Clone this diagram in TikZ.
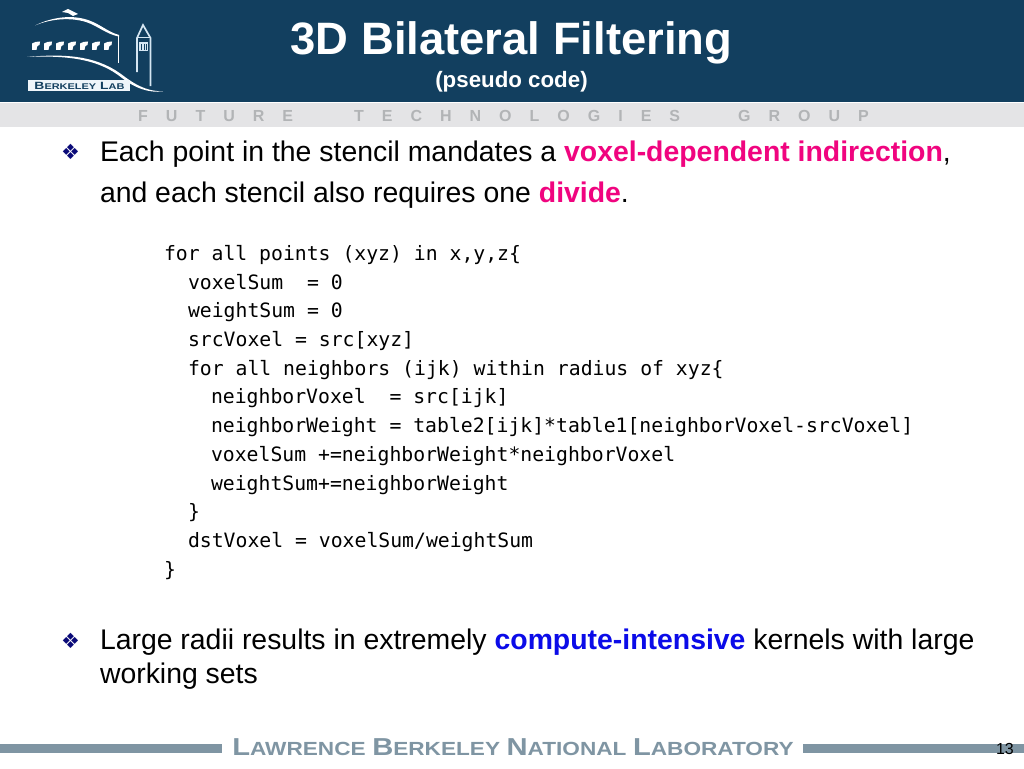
\documentclass[tikz,border=0pt]{standalone}
\usepackage{graphicx}
\usepackage{fontspec}
\setmainfont{Liberation Sans}
\setmonofont{DejaVu Sans Mono}
\newfontfamily\symfont{DejaVu Sans}
\definecolor{band}{HTML}{123F5F}
\definecolor{strip}{HTML}{E4E4E6}
\definecolor{striptext}{HTML}{B2B4B6}
\definecolor{foot}{HTML}{7F95A3}
\definecolor{hotpink}{HTML}{F0047F}
\definecolor{hotblue}{HTML}{0B0BE8}
\definecolor{bulletc}{HTML}{0A0A78}
\definecolor{logopale}{HTML}{D5E6F2}
\newcommand{\fsz}[1]{\fontsize{#1pt}{#1pt}\selectfont}
\newcommand{\ftc}[2]{{\fsz{24.5}#1}{\fsz{19}#2}}
\newcommand{\lbc}[2]{{\fsz{10.5}#1}{\fsz{8.3}#2}}
\tikzset{
  x=1pt,y=-1pt,
  txt/.style={anchor=base west,inner sep=0pt,outer sep=0pt,text=black,font=\fsz{28.4}},
  code/.style={anchor=base west,inner sep=0pt,outer sep=0pt,text=black,font=\ttfamily\fsz{19.77}},
  bullet/.style={anchor=base west,inner sep=0pt,outer sep=0pt,text=bulletc,font=\symfont\fsz{21}},
  window/.style={fill=white,draw=none},
  tower/.style={draw=logopale,line join=miter}
}
\begin{document}
\begin{tikzpicture}
\useasboundingbox (0,0) rectangle (1024,768);
\fill[white] (0,0) rectangle (1024,768);
\fill[band] (0,0) rectangle (1024,102);
\fill[strip] (0,103) rectangle (1024,127);
% logo
\fill[white] (35,25.5) .. controls (50,18) and (70,14) .. (88,20) .. controls (100,24) and (108,32) .. (119,35) -- (119,36.6) .. controls (106,34) and (98,26) .. (86,22) .. controls (70,17) and (50,19) .. (35,25.5) -- cycle;
\fill[white] (62,12) -- (68,9) -- (78,14) -- (73,16) -- (68,13) -- cycle;
\draw[white,line width=1.5pt] (118.5,35.5) -- (118.5,63);
\foreach \i in {0,...,6}{
  \fill[window] ({32+\i*12},43.5) .. controls ({34+\i*12},42) and ({37+\i*12},41.5) .. ({40+\i*12},41.5) -- ({39.5+\i*12},45) .. controls ({38+\i*12},45) and ({37+\i*12},45.5) .. ({36.5+\i*12},50) -- ({32+\i*12},50) -- cycle;
}
\fill[white] (27,57) .. controls (70,53) and (100,57) .. (125,77) .. controls (140,88) and (150,91) .. (163,91.5) .. controls (148,93) and (135,88) .. (122,78) .. controls (100,60) and (70,55) .. (27,57) -- cycle;
\draw[tower,line width=1.7pt] (137,72) -- (137,38) -- (143,25) -- (150.5,38) -- (150.5,86);
\draw[tower,line width=1pt] (137,38) -- (150.5,38);
\fill[logopale] (139,42) rectangle (148,51);
\foreach \i in {140.5,143.5,146}{\fill[band] (\i,44) rectangle (\i+1.2,50.5);}
\fill[logopale!40!white] (28,80) rectangle (130,91);
\node[anchor=base,inner sep=0pt,text=band,font=\bfseries] (logotext) at (79.5,89) {\scalebox{1.32}[1]{\lbc{B}{ERKELEY}\hspace{3pt}\lbc{L}{AB}}};
% title
\node[anchor=base,inner sep=0pt,text=white,font=\bfseries\fsz{45.4}] (title) at (511.5,55) {3D Bilateral Filtering};
\node[anchor=base,inner sep=0pt,text=white,font=\bfseries\fsz{22.3}] (subtitle) at (511.5,87) {(pseudo code)};
\node[anchor=base west,inner sep=0pt,text=striptext,font=\bfseries\fsz{16}] (tagline) at (138,121)
  {\spaceskip=18pt F U T U R E\hspace{61pt}T E C H N O L O G I E S\hspace{58pt}G R O U P};
% first bullet
\node[bullet] (b1) at (61,159) {❖};
\node[txt] (l1) at (100,161) {Each point in the stencil mandates a \textcolor{hotpink}{\bfseries voxel-dependent indirection},};
\node[txt] (l2) at (100,202) {and each stencil also requires one \textcolor{hotpink}{\bfseries divide}.};
% code
\node[code] (c1) at (164,260) {for all points (xyz) in x,y,z\{};
\node[code] (c2) at (188,289) {voxelSum\ \ = 0};
\node[code] (c3) at (188,317) {weightSum = 0};
\node[code] (c4) at (188,346) {srcVoxel = src[xyz]};
\node[code] (c5) at (188,375) {for all neighbors (ijk) within radius of xyz\{};
\node[code] (c6a) at (211,403) {neighborVoxel\ \ = src[ijk]};
\node[code] (c6) at (211,432) {neighborWeight = table2[ijk]*table1[neighborVoxel-srcVoxel]};
\node[code] (c7) at (211,461) {voxelSum +=neighborWeight*neighborVoxel};
\node[code] (c8) at (211,490) {weightSum+=neighborWeight};
\node[code] (c9) at (188,518) {\}};
\node[code] (c10) at (188,547) {dstVoxel = voxelSum/weightSum};
\node[code] (c11) at (164,576) {\}};
% second bullet
\node[bullet] (b2) at (61,648) {❖};
\node[txt] (l3) at (100,649) {Large radii results in extremely \textcolor{hotblue}{\bfseries compute-intensive} kernels with large};
\node[txt] (l4) at (100,683) {working sets};
% footer
\fill[foot] (0,744) rectangle (222,753);
\fill[foot] (803,744) rectangle (1024,753);
\node[anchor=base,inner sep=0pt,text=foot,font=\bfseries] (footer) at (513,755.5) {\scalebox{1.19}[1]{\ftc{L}{AWRENCE}\hspace{5.5pt}\ftc{B}{ERKELEY}\hspace{5.5pt}\ftc{N}{ATIONAL}\hspace{5.5pt}\ftc{L}{ABORATORY}}};
\node[anchor=base east,inner sep=0pt,text=black,font=\fsz{16}] (page) at (1014,754) {13};
\end{tikzpicture}
\end{document}
